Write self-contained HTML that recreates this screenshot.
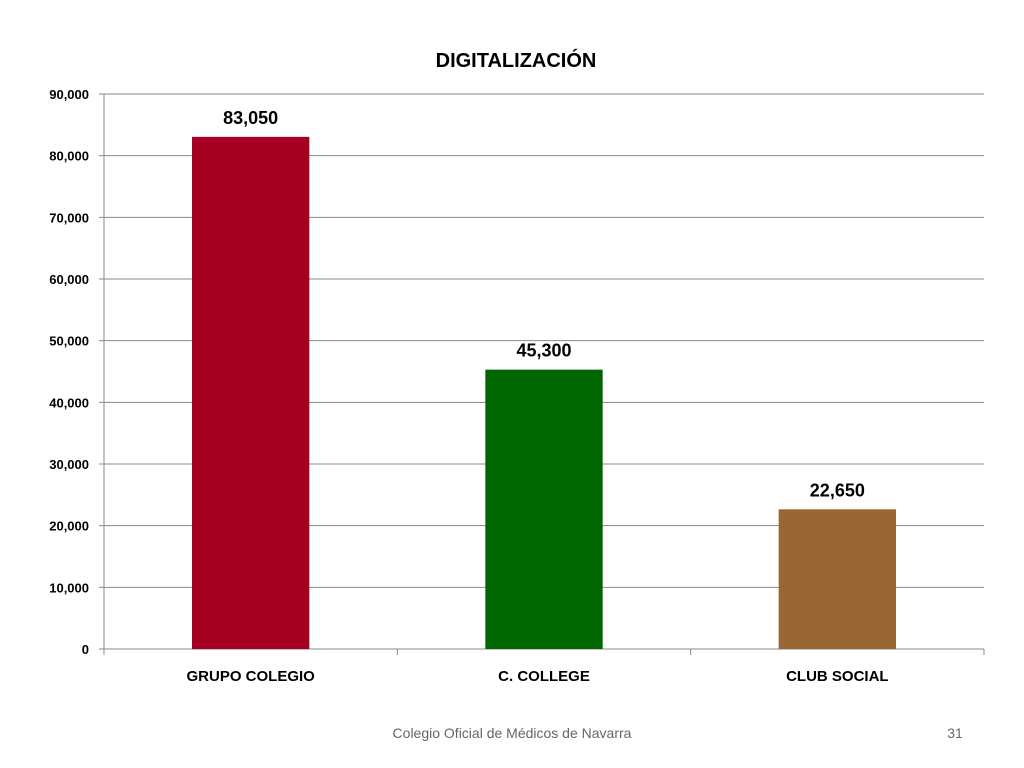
<!DOCTYPE html>
<html><head><meta charset="utf-8"><style>
html,body{margin:0;padding:0;background:#fff;}
svg{display:block;font-family:"Liberation Sans",Arial,sans-serif;}
</style></head><body>
<svg id="chart" width="1024" height="768" viewBox="0 0 1024 768">
<text x="516" y="67" text-anchor="middle" font-size="20" font-weight="bold" fill="#000">DIGITALIZACIÓN</text>
<g id="grid"></g><g id="yaxis"></g><g id="bars"></g><g id="xaxis"></g>
<text x="512" y="738" text-anchor="middle" font-size="14" fill="#666">Colegio Oficial de Médicos de Navarra</text>
<text x="955" y="738" text-anchor="middle" font-size="14" fill="#666">31</text>
</svg>
<script>
const categories=["GRUPO COLEGIO","C. COLLEGE","CLUB SOCIAL"];
const values=[83050,45300,22650];
const colors=["#A50021","#006600","#996633"];
const yTicks=[0,10000,20000,30000,40000,50000,60000,70000,80000,90000];
const NS="http://www.w3.org/2000/svg";
const L=104,R=984,T=94,B=649,YMAX=90000;
const y=v=>B-(v/YMAX)*(B-T);
const bw=(R-L)/categories.length;
const x=i=>L+bw*i+bw/2;
const fmt=v=>v.toLocaleString("en-US");
function mk(tag,attrs,parent,text){const e=document.createElementNS(NS,tag);for(const k in attrs)e.setAttribute(k,attrs[k]);if(text!==undefined)e.textContent=text;document.getElementById(parent).appendChild(e);return e;}
yTicks.forEach(t=>{
 const g=mk("line",{x1:L,x2:R,y1:y(t),y2:y(t),stroke:"#888","stroke-width":1},"grid");
 
 
 const tk=mk("line",{x1:L-5,x2:L,y1:y(t),y2:y(t),stroke:"#888"},"yaxis");
 
 
 const lb=mk("text",{x:L-15,y:y(t)+5,"text-anchor":"end","font-size":13,"font-weight":"bold"},"yaxis",fmt(t));
 
 
});
const ax=mk("line",{x1:L,x2:L,y1:T,y2:B,stroke:"#888"},"yaxis");


for(let i=0;i<=categories.length;i++){
 const t=mk("line",{x1:L+bw*i,x2:L+bw*i,y1:B,y2:B+6,stroke:"#888"},"xaxis");
 
 
}
categories.forEach((c,i)=>{
 const w=bw*0.4;
 const r=mk("rect",{x:x(i)-w/2,y:y(values[i]),width:w,height:B-y(values[i]),fill:colors[i]},"bars");
 
 
 const v=mk("text",{x:x(i),y:y(values[i])-13,"text-anchor":"middle","font-size":18,"font-weight":"bold"},"bars",fmt(values[i]));
 
 
 const l=mk("text",{x:x(i),y:681,"text-anchor":"middle","font-size":15,"font-weight":"bold"},"xaxis",c);
 
 
});
</script>
</body></html>
